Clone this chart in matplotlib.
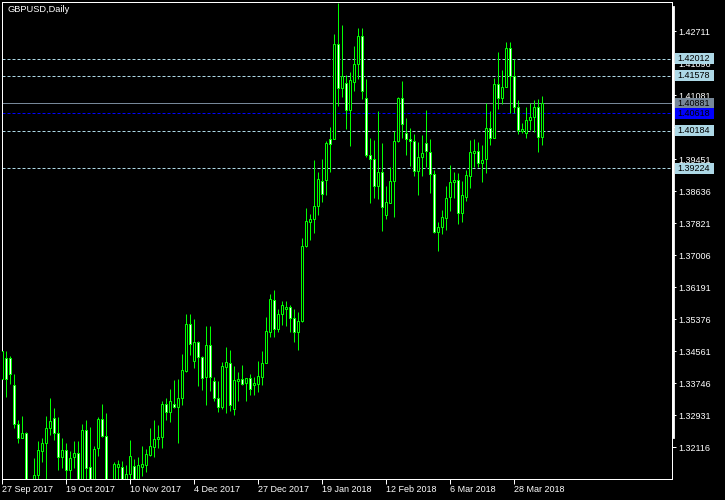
import matplotlib
matplotlib.use("Agg")
import matplotlib.pyplot as plt
from matplotlib.patches import Rectangle
from matplotlib.lines import Line2D
from matplotlib.transforms import blended_transform_factory

plt.rcParams['font.family'] = ['Liberation Sans', 'DejaVu Sans']

# daily GBPUSD candles, 27 Sep 2017 .. 6 Apr 2018
opens = [1.3386, 1.3439, 1.3439, 1.3370, 1.3271, 1.3235, 1.3248, 1.3085, 1.3057, 1.3141,
         1.3202, 1.3223, 1.3261, 1.3286, 1.3248, 1.3187, 1.3205, 1.3154, 1.3187, 1.3197,
         1.3108, 1.3256, 1.3162, 1.3103, 1.3210, 1.3284, 1.3240, 1.3098, 1.3116, 1.3162,
         1.3162, 1.3128, 1.3144, 1.3164, 1.3131, 1.3162, 1.3167, 1.3192, 1.3212, 1.3233,
         1.3238, 1.3322, 1.3302, 1.3322, 1.3314, 1.3337, 1.3406, 1.3526, 1.3432, 1.3480,
         1.3442, 1.3391, 1.3472, 1.3381, 1.3337, 1.3314, 1.3416, 1.3426, 1.3309, 1.3381,
         1.3386, 1.3375, 1.3388, 1.3370, 1.3373, 1.3391, 1.3426, 1.3505, 1.3587, 1.3513,
         1.3551, 1.3564, 1.3569, 1.3541, 1.3505, 1.3533, 1.3724, 1.3786, 1.3793, 1.3826,
         1.3890, 1.3893, 1.3997, 1.3997, 1.4239, 1.4127, 1.4140, 1.4071, 1.4142, 1.4188,
         1.4259, 1.4101, 1.3956, 1.3946, 1.3877, 1.3913, 1.3803, 1.3834, 1.3890, 1.3992,
         1.4101, 1.4012, 1.3997, 1.3992, 1.3915, 1.3951, 1.3987, 1.3964, 1.3908, 1.3760,
         1.3773, 1.3796, 1.3849, 1.3887, 1.3893, 1.3808, 1.3849, 1.3903, 1.3961, 1.3966,
         1.3936, 1.3946, 1.4025, 1.3999, 1.4137, 1.4101, 1.4129, 1.4229, 1.4157, 1.4078,
         1.4017, 1.4012, 1.4045, 1.4053, 1.4078, 1.4002]
highs = [1.3462, 1.3457, 1.3444, 1.3398, 1.3281, 1.3291, 1.3251, 1.3108, 1.3184, 1.3228,
         1.3235, 1.3291, 1.3337, 1.3312, 1.3289, 1.3235, 1.3223, 1.3202, 1.3228, 1.3228,
         1.3271, 1.3281, 1.3263, 1.3215, 1.3289, 1.3322, 1.3299, 1.3118, 1.3174, 1.3179,
         1.3177, 1.3167, 1.3230, 1.3182, 1.3187, 1.3215, 1.3207, 1.3261, 1.3281, 1.3269,
         1.3330, 1.3337, 1.3360, 1.3383, 1.3386, 1.3449, 1.3551, 1.3551, 1.3539, 1.3483,
         1.3444, 1.3521, 1.3521, 1.3391, 1.3381, 1.3429, 1.3467, 1.3460, 1.3419, 1.3404,
         1.3421, 1.3388, 1.3398, 1.3391, 1.3432, 1.3457, 1.3544, 1.3602, 1.3612, 1.3564,
         1.3584, 1.3584, 1.3574, 1.3564, 1.3556, 1.3745, 1.3821, 1.3806, 1.3944, 1.3913,
         1.3946, 1.3992, 1.4028, 1.4264, 1.4343, 1.4287, 1.4160, 1.4168, 1.4234, 1.4280,
         1.4280, 1.4150, 1.3999, 1.3994, 1.4068, 1.3987, 1.3877, 1.3926, 1.4017, 1.4104,
         1.4145, 1.4050, 1.4025, 1.4010, 1.3989, 1.4007, 1.4071, 1.3997, 1.3918, 1.3786,
         1.3816, 1.3877, 1.3931, 1.3913, 1.3910, 1.3890, 1.3918, 1.3994, 1.3997, 1.3989,
         1.3982, 1.4089, 1.4068, 1.4152, 1.4219, 1.4173, 1.4244, 1.4244, 1.4201, 1.4096,
         1.4038, 1.4078, 1.4089, 1.4096, 1.4099, 1.4107]
lows = [1.3381, 1.3340, 1.3373, 1.3261, 1.3223, 1.3235, 1.3078, 1.3014, 1.3047, 1.3103,
        1.3174, 1.3116, 1.3243, 1.3230, 1.3154, 1.3159, 1.3123, 1.3116, 1.3159, 1.3090,
        1.3098, 1.3116, 1.3090, 1.3090, 1.3190, 1.3238, 1.3078, 1.3078, 1.3103, 1.3123,
        1.3116, 1.3108, 1.3123, 1.3116, 1.3116, 1.3139, 1.3149, 1.3190, 1.3187, 1.3210,
        1.3210, 1.3281, 1.3276, 1.3312, 1.3223, 1.3320, 1.3404, 1.3447, 1.3414, 1.3368,
        1.3358, 1.3320, 1.3355, 1.3330, 1.3302, 1.3309, 1.3299, 1.3304, 1.3294, 1.3330,
        1.3370, 1.3330, 1.3345, 1.3345, 1.3353, 1.3370, 1.3426, 1.3493, 1.3493, 1.3505,
        1.3523, 1.3521, 1.3505, 1.3480, 1.3460, 1.3531, 1.3722, 1.3740, 1.3758, 1.3803,
        1.3836, 1.3854, 1.3913, 1.3997, 1.4081, 1.4104, 1.4022, 1.3979, 1.4119, 1.4150,
        1.4099, 1.3951, 1.3834, 1.3847, 1.3844, 1.3763, 1.3793, 1.3834, 1.3798, 1.3989,
        1.3999, 1.3956, 1.3928, 1.3903, 1.3854, 1.3903, 1.3926, 1.3859, 1.3758, 1.3712,
        1.3755, 1.3765, 1.3814, 1.3847, 1.3781, 1.3786, 1.3839, 1.3872, 1.3926, 1.3926,
        1.3887, 1.3910, 1.3982, 1.3999, 1.4073, 1.4086, 1.4129, 1.4063, 1.4063, 1.4010,
        1.4012, 1.3999, 1.4020, 1.4015, 1.3964, 1.3982]
closes = [1.3457, 1.3386, 1.3398, 1.3271, 1.3235, 1.3248, 1.3090, 1.3057, 1.3141, 1.3205,
          1.3223, 1.3261, 1.3279, 1.3248, 1.3187, 1.3205, 1.3154, 1.3184, 1.3197, 1.3108,
          1.3256, 1.3159, 1.3103, 1.3207, 1.3284, 1.3240, 1.3098, 1.3108, 1.3169, 1.3169,
          1.3128, 1.3144, 1.3190, 1.3131, 1.3167, 1.3169, 1.3195, 1.3215, 1.3233, 1.3238,
          1.3322, 1.3302, 1.3330, 1.3314, 1.3337, 1.3409, 1.3526, 1.3475, 1.3480, 1.3442,
          1.3388, 1.3472, 1.3391, 1.3337, 1.3314, 1.3419, 1.3429, 1.3320, 1.3383, 1.3386,
          1.3373, 1.3388, 1.3360, 1.3375, 1.3393, 1.3426, 1.3508, 1.3589, 1.3513, 1.3551,
          1.3574, 1.3569, 1.3541, 1.3505, 1.3533, 1.3724, 1.3788, 1.3793, 1.3826, 1.3895,
          1.3857, 1.3987, 1.3984, 1.4239, 1.4127, 1.4157, 1.4071, 1.4147, 1.4188, 1.4259,
          1.4119, 1.3956, 1.3946, 1.3877, 1.3913, 1.3824, 1.3836, 1.3890, 1.3992, 1.4101,
          1.4035, 1.3997, 1.3992, 1.3915, 1.3951, 1.3961, 1.3966, 1.3908, 1.3760, 1.3773,
          1.3798, 1.3847, 1.3887, 1.3893, 1.3808, 1.3854, 1.3905, 1.3964, 1.3966, 1.3936,
          1.3944, 1.4025, 1.3999, 1.4137, 1.4101, 1.4129, 1.4229, 1.4157, 1.4078, 1.4020,
          1.4022, 1.4045, 1.4053, 1.4078, 1.4002, 1.40881]

date_ticks = [0, 16, 32, 48, 64, 80, 96, 112, 128]
date_labels = ['27 Sep 2017', '19 Oct 2017', '10 Nov 2017', '4 Dec 2017', '27 Dec 2017',
               '19 Jan 2018', '12 Feb 2018', '6 Mar 2018', '28 Mar 2018']
price_ticks = [1.32116, 1.32931, 1.33746, 1.34561, 1.35376, 1.36191, 1.37006,
               1.37821, 1.38636, 1.39451, 1.40266, 1.41081, 1.41896, 1.42711]
levels = [1.42012, 1.41578, 1.40184, 1.39224]
bid = 1.40881
ask = 1.40618

W, H = 725, 500
fig = plt.figure(figsize=(W / 100, H / 100), dpi=100, facecolor='black')
ax = fig.add_axes([2 / W, 1 - 479 / H, 670 / W, 477 / H], facecolor='black')

lime = '#00ff00'
px = 0.72  # one pixel in points

# level lines
for lv in levels:
    ax.axhline(lv, color='#add8e6', lw=px, ls=(0, (3, 2)), zorder=1)
ax.axhline(bid, color='#778899', lw=px, zorder=1)
ax.axhline(ask, color='#0000ff', lw=px, ls=(0, (3, 2)), zorder=1)

# candles
xs = list(range(len(opens)))
ax.vlines(xs, lows, highs, color=lime, lw=px, zorder=2)
bottoms = [min(o, c) for o, c in zip(opens, closes)]
heights = [max(abs(c - o), 0.00002) for o, c in zip(opens, closes)]
fills = ['black' if c >= o else 'white' for o, c in zip(opens, closes)]
ax.bar(xs, heights, bottom=bottoms, width=0.5, color=fills, edgecolor=lime,
       linewidth=px, zorder=3)

ax.set_xlim(-0.075, 167.425)
ax.set_ylim(1.31308, 1.43458)

for s in ax.spines.values():
    s.set_color('white')
    s.set_linewidth(px)

ax.yaxis.tick_right()
ax.set_yticks(price_ticks)
ax.set_yticklabels(['%.5f' % p for p in price_ticks])
ax.tick_params(axis='y', colors='white', length=3, width=px, pad=1.5, labelsize=6.5)
ax.set_xticks(date_ticks)
ax.set_xticklabels(date_labels, ha='left')
ax.tick_params(axis='x', colors='white', length=3.6, width=px, pad=1, labelsize=6.5)

# thick bar along the right axis
fig.add_artist(Line2D([672.5 / W] * 2, [1 - 7 / H, 1 - 437 / H], color='white', lw=2))

# price labels on the right
tr = blended_transform_factory(fig.transFigure, ax.transData)
box_h = 11 / 3926
tags = [(lv, '#add8e6') for lv in levels] + [(bid, '#778899'), (ask, '#0000ff')]
for p, col in tags:
    fig.add_artist(Rectangle((675 / W, p - box_h / 2), 39 / W, box_h, transform=tr,
                             facecolor=col, edgecolor='none', clip_on=False))
    fig.add_artist(plt.Text(677.5 / W, p, '%.5f' % p, transform=tr, color='black',
                            fontsize=6.5, va='center', ha='left'))

fig.text(7 / W, 1 - 10 / H, 'GBPUSD,Daily', color='white', fontsize=6.7, va='center', ha='left')

fig.savefig('out.png', dpi=100, facecolor='black')
